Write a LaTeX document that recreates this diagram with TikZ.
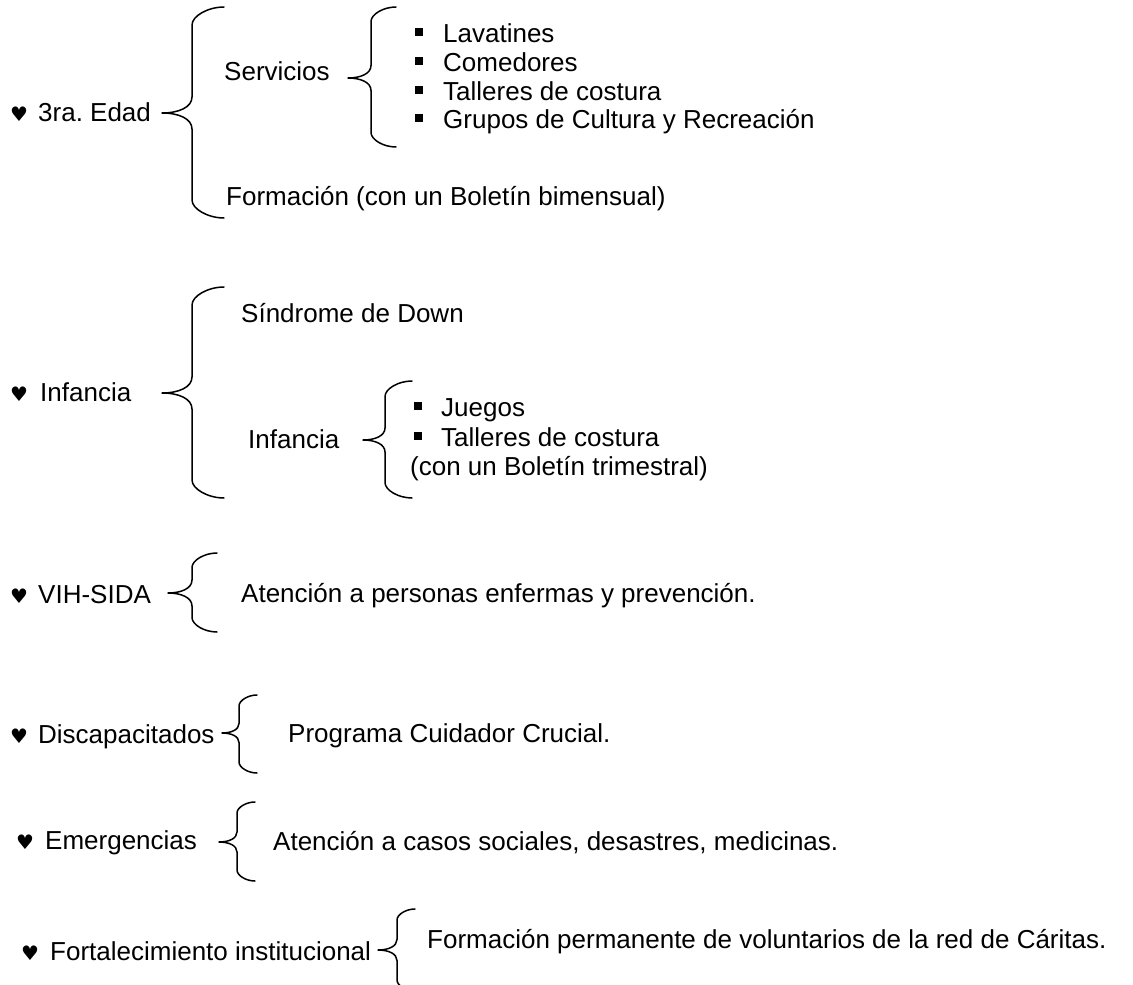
\documentclass[tikz,border=0pt]{standalone}
\usepackage{fontspec}
\setmainfont{Liberation Sans}
\newfontfamily\symfont{DejaVu Sans}
\frenchspacing
\tikzset{
  bracestyle/.style={line width=1.5pt, line cap=round, line join=round},
  lbl/.style={anchor=base west, inner sep=0pt, font=\fontsize{26}{30}\selectfont},
  hrt/.style={anchor=base west, inner sep=0pt, font=\symfont\fontsize{20}{22}\selectfont},
  sq/.style={anchor=south west, inner sep=0pt, fill=black, minimum width=8pt, minimum height=8pt}
}
% xe xv xt yt ym yb
\newcommand\cbrace[6]{%
  \pgfmathsetmacro\ra{0.5*(#1-#2)+2}%
  \pgfmathsetmacro\rb{0.5*(#2-#3)+1}%
  \draw[bracestyle] (#1,#4) .. controls ({#2+0.5*(#1-#2)},#4) and (#2,{#4+0.5*\ra}) .. (#2,{#4+\ra})
    -- (#2,{#5-\rb}) .. controls (#2,{#5-0.35*\rb}) and ({#2-0.45*(#2-#3)},#5) .. (#3,#5)
    .. controls ({#2-0.45*(#2-#3)},#5) and (#2,{#5+0.35*\rb}) .. (#2,{#5+\rb})
    -- (#2,{#6-\ra}) .. controls (#2,{#6-0.5*\ra}) and ({#2+0.5*(#1-#2)},#6) .. (#1,#6);%
}
\begin{document}
\begin{tikzpicture}[x=1pt,y=-1pt]
\path[use as bounding box, clip] (0,0) rectangle (1133,985);
\fill[white] (0,0) rectangle (1133,985);

% 3ra. Edad
\node[hrt] (h1) at (10,121) {♥};
\node[lbl] (edad) at (38,121) {3ra. Edad};
\cbrace{224}{192}{162}{7}{113}{218}
\node[lbl] (serv) at (224,80) {Servicios};
\cbrace{396}{371}{348}{7}{78}{147}
\node[sq] (s1) at (415,36) {};
\node[lbl] (lav) at (443,42) {Lavatines};
\node[sq] (s2) at (415,65) {};
\node[lbl] (com) at (443,71) {Comedores};
\node[sq] (s3) at (415,94) {};
\node[lbl] (tal) at (443,100) {Talleres de costura};
\node[sq] (s4) at (415,122) {};
\node[lbl] (gru) at (443,128) {Grupos de Cultura y Recreación};
\node[lbl] (form) at (226,205) {Formación (con un Boletín bimensual)};

% Infancia
\node[hrt] (h2) at (10,401) {♥};
\node[lbl] (inf) at (40,401) {Infancia};
\cbrace{224}{192}{162}{287}{393}{498}
\node[lbl] (sind) at (241,322) {Síndrome de Down};
\node[lbl] (inf2) at (248,448) {Infancia};
\cbrace{412}{385}{363}{381}{440}{498}
\node[sq] (s5) at (414,410) {};
\node[lbl] (jue) at (441,416) {Juegos};
\node[sq] (s6) at (414,440) {};
\node[lbl] (tal2) at (441,446) {Talleres de costura};
\node[lbl] (bol) at (410,475) {(con un Boletín trimestral)};

% VIH-SIDA
\node[hrt] (h3) at (10,603) {♥};
\node[lbl] (vih) at (38,603) {VIH-SIDA};
\cbrace{217}{192}{168}{553}{593}{632}
\node[lbl] (aten) at (241,602) {Atención a personas enfermas y prevención.};

% Discapacitados
\node[hrt] (h4) at (10,743) {♥};
\node[lbl] (disc) at (38,743) {Discapacitados};
\cbrace{257}{239}{222}{695}{733}{773}
\node[lbl] (prog) at (288,742) {Programa Cuidador Crucial.};

% Emergencias
\node[hrt] (h5) at (16,849) {♥};
\node[lbl] (emer) at (45,849) {Emergencias};
\cbrace{255}{237}{219}{802}{842}{881}
\node[lbl] (casos) at (273,850) {Atención a casos sociales, desastres, medicinas.};

% Fortalecimiento
\node[hrt] (h6) at (21,960) {♥};
\node[lbl] (fort) at (50,960) {Fortalecimiento institucional};
\cbrace{415}{397}{378}{909}{950}{991}
\node[lbl] (perm) at (427,948) {Formación permanente de voluntarios de la red de Cáritas.};
\end{tikzpicture}
\end{document}
